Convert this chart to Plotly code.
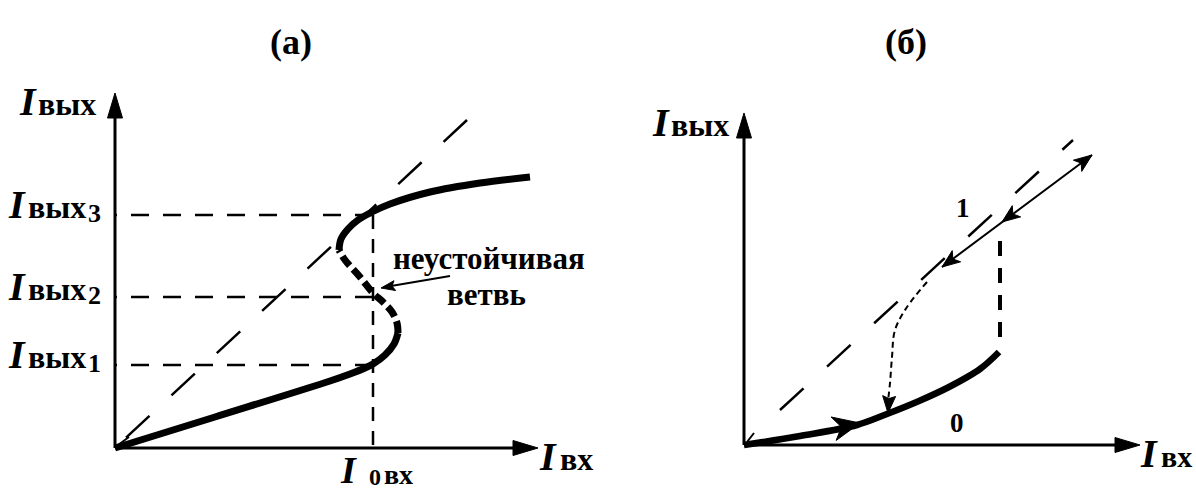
import numpy as np
import plotly.graph_objects as go

FONT = "Liberation Serif, Times New Roman, serif"

# ---------------- Panel (а): S-shaped characteristic (panel units, origin at the axes corner)
a_axis_x_end = 423
a_axis_y_end = 355
a_levels = [83, 151, 233]            # Iвых1, Iвых2, Iвых3
a_level_idx = ["1", "2", "3"]
a_I0 = 258                            # I0 вх
a_diag_x = [352, 0]
a_diag_y = [328, 0]
a_lower_x = [0, 100, 215, 235, 250, 258, 270, 279, 283]
a_lower_y = [0, 31, 67, 74, 80, 84, 93, 104, 115]
a_unstable_x = [283, 282, 277, 268, 258, 245, 230, 224]
a_unstable_y = [115, 125, 136, 146, 155, 171, 188, 198]
a_upper_x = [224, 226, 233, 243, 257, 275, 315, 365, 415]
a_upper_y = [198, 209, 219, 228, 236, 244, 256, 265, 271]
a_note_tail = (335, 172)
a_note_tip = (266, 160)
a_origin_barb_x = [3, 14]
a_origin_barb_y = [3, 11]

# ---------------- Panel (б): hysteresis
b_axis_x_end = 396
b_axis_y_end = 332
b_diag_x = [36, 329]
b_diag_y = [35, 305]
b_curve0_x = [0, 56, 113, 143, 175, 205, 236, 255]
b_curve0_y = [0, 9, 20, 31, 44, 58, 76, 93]
b_jump_x = [256, 256]
b_jump_y = [108, 213]
b_branch1_x = [198, 348]
b_branch1_y = [178, 290]
b_mid_tip = (258, 223)
b_return_x = [183, 163, 151, 148, 146, 144]
b_return_y = [163, 138, 115, 88, 62, 32]
b_curve_arrow_tip = (116, 22)
b_origin_barb_x = [3, 10]
b_origin_barb_y = [3, 12]

fig = go.Figure()


def refs(panel):
    return ("x", "y") if panel == "a" else ("x2", "y2")


def head(tip, frm, length, half, notch=0.0):
    tip = np.array(tip, float)
    d = tip - np.array(frm, float)
    d /= np.linalg.norm(d)
    n = np.array([-d[1], d[0]])
    base = tip - d * length
    p1 = base + n * half
    p2 = base - n * half
    pn = tip - d * length * (1 - notch)
    pts = [tip, p1, pn, p2, tip]
    return [p[0] for p in pts], [p[1] for p in pts]


def add_line(x, y, panel, width, dash="solid", shape="linear"):
    xa, ya = refs(panel)
    fig.add_trace(go.Scatter(x=x, y=y, mode="lines", xaxis=xa, yaxis=ya,
                             line=dict(color="black", width=width, dash=dash,
                                       shape=shape, smoothing=1.0),
                             hoverinfo="skip", showlegend=False))


def add_head(tip, frm, length, half, panel, notch=0.0):
    xa, ya = refs(panel)
    hx, hy = head(tip, frm, length, half, notch)
    fig.add_trace(go.Scatter(x=hx, y=hy, mode="lines", fill="toself",
                             fillcolor="black", xaxis=xa, yaxis=ya,
                             line=dict(color="black", width=1),
                             hoverinfo="skip", showlegend=False))


def add_text(x, y, text, panel, size, xanchor="center", yanchor="middle"):
    xr, yr = refs(panel)
    fig.add_annotation(x=x, y=y, xref=xr, yref=yr, text=text, showarrow=False,
                       xanchor=xanchor, yanchor=yanchor,
                       font=dict(family=FONT, size=size, color="black"))


I_SIZE, W_SIZE, D_SIZE = 40, 32, 26

# ===== Panel (а) =====
AH_L, AH_W = 25, 7.5
add_line([0, a_axis_x_end - AH_L + 2], [0, 0], "a", 3)
add_head((a_axis_x_end, 0), (0, 0), AH_L, AH_W, "a")
add_line([0, 0], [0, a_axis_y_end - AH_L + 2], "a", 3)
add_head((0, a_axis_y_end), (0, 0), AH_L, AH_W, "a")

add_line(a_diag_x, a_diag_y, "a", 2.5, dash="32px,30px")
for lv in a_levels:
    add_line([a_I0, 0], [lv, lv], "a", 2.5, dash="18px,14px")
add_line([a_I0, a_I0], [a_levels[-1], 0], "a", 2.5, dash="14px,10px")

add_line(a_lower_x, a_lower_y, "a", 7, shape="spline")
add_line(a_upper_x, a_upper_y, "a", 7, shape="spline")
add_line(a_unstable_x, a_unstable_y, "a", 7, dash="12px,5px", shape="spline")
add_line(a_origin_barb_x, a_origin_barb_y, "a", 2)

add_line([a_note_tail[0], a_note_tip[0] + 10], [a_note_tail[1], a_note_tip[1] + 2], "a", 1.8)
add_head(a_note_tip, a_note_tail, 14, 5, "a", notch=0.2)

# axis labels
add_text(-98, 347, "<b><i>I</i></b>", "a", I_SIZE, xanchor="left")
add_text(-79, 344, "<b>вых</b>", "a", W_SIZE, xanchor="left")
for lv, idx in zip(a_levels, a_level_idx):
    add_text(-109, lv + 11, "<b><i>I</i></b>", "a", I_SIZE, xanchor="left")
    add_text(-89, lv + 8, "<b>вых</b>", "a", W_SIZE, xanchor="left")
    add_text(-29, lv + 2, "<b>" + idx + "</b>", "a", D_SIZE, xanchor="left")
add_text(422, -8, "<b><i>I</i></b>", "a", I_SIZE, xanchor="left")
add_text(443, -11, "<b>вх</b>", "a", W_SIZE, xanchor="left")
add_text(223, -22, "<b><i>I</i></b>", "a", 38, xanchor="left")
add_text(252, -29, "<b>0</b>", "a", 24, xanchor="left")
add_text(267, -26, "<b>вх</b>", "a", 28, xanchor="left")
add_text(374, 190, "<b>неустойчивая</b>", "a", 31)
add_text(371, 154, "<b>ветвь</b>", "a", 31)
add_text(176, 406, "<b>(а)</b>", "a", 36)

# ===== Panel (б) =====
add_line([0, b_axis_x_end - AH_L + 2], [0, 0], "b", 3)
add_head((b_axis_x_end, 0), (0, 0), AH_L, AH_W, "b")
add_line([0, 0], [0, b_axis_y_end - AH_L + 2], "b", 3)
add_head((0, b_axis_y_end), (0, 0), AH_L, AH_W, "b")

add_line(b_diag_x, b_diag_y, "b", 2.5, dash="32px,32px")
add_line(b_curve0_x, b_curve0_y, "b", 6.5, shape="spline")
add_head(b_curve_arrow_tip, (b_curve0_x[1], b_curve0_y[1]), 27, 12, "b", notch=0.3)
add_line(b_jump_x, b_jump_y, "b", 4, dash="15px,12px")
add_line(b_origin_barb_x, b_origin_barb_y, "b", 2)

add_line(b_branch1_x, b_branch1_y, "b", 2)
p_hi = (b_branch1_x[1], b_branch1_y[1])
p_lo = (b_branch1_x[0], b_branch1_y[0])
add_head(p_hi, p_lo, 18, 7, "b", notch=0.25)
add_head(b_mid_tip, p_hi, 18, 7, "b", notch=0.25)
add_head(p_lo, p_hi, 18, 7, "b", notch=0.25)

add_line(b_return_x[:-1] + [b_return_x[-1]], b_return_y[:-1] + [b_return_y[-1] + 12], "b", 2,
         dash="6px,4px", shape="spline")
add_head((b_return_x[-1], b_return_y[-1]), (b_return_x[-2], b_return_y[-2]), 17, 6.5, "b", notch=0.15)

add_text(-94, 323, "<b><i>I</i></b>", "b", I_SIZE, xanchor="left")
add_text(-75, 320, "<b>вых</b>", "b", W_SIZE, xanchor="left")
add_text(394, -8, "<b><i>I</i></b>", "b", I_SIZE, xanchor="left")
add_text(415, -11, "<b>вх</b>", "b", 30, xanchor="left")
add_text(219, 237, "<b>1</b>", "b", 27)
add_text(213, 22, "<b>0</b>", "b", 27)
add_text(162, 403, "<b>(б)</b>", "b", 36)

ax_common = dict(visible=False, showgrid=False, zeroline=False, fixedrange=True)
fig.update_layout(
    width=1196, height=490,
    margin=dict(l=0, r=0, t=0, b=0),
    paper_bgcolor="white", plot_bgcolor="white",
    showlegend=False,
    xaxis=dict(range=[-115, 1081], domain=[0, 1], **ax_common),
    yaxis=dict(range=[-42, 448], domain=[0, 1], **ax_common),
    xaxis2=dict(range=[-744, 452], domain=[0, 1], overlaying="x", **ax_common),
    yaxis2=dict(range=[-45, 445], domain=[0, 1], overlaying="y", anchor="x2", **ax_common),
)

fig.write_html("out.html", config={"displayModeBar": False},
               post_script="document.body.style.margin='0';document.body.style.overflow='hidden';")
